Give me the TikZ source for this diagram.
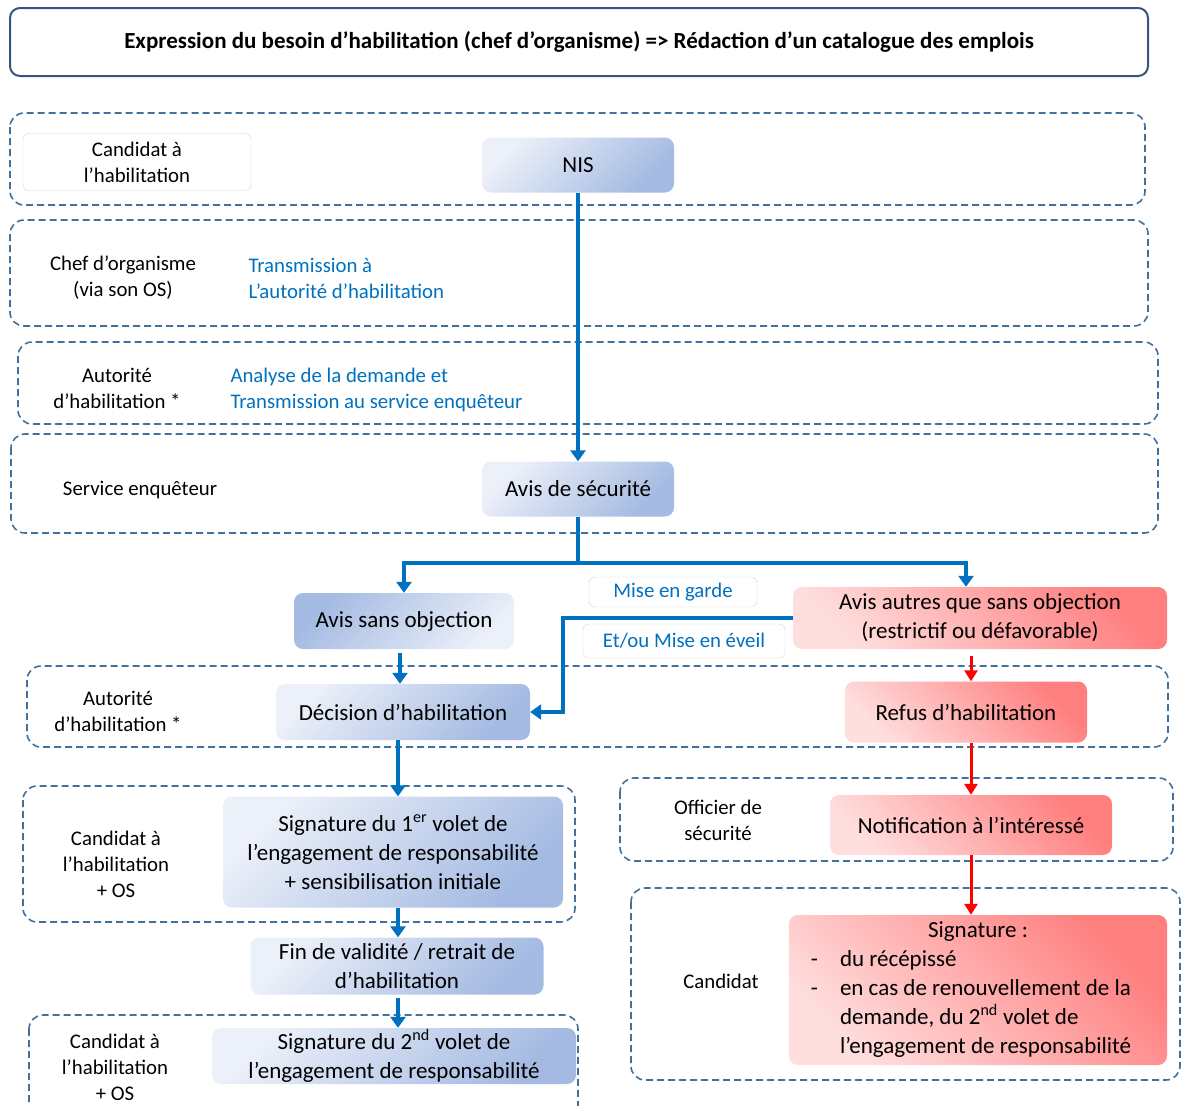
\documentclass[tikz,border=0pt]{standalone}
\usepackage{fontspec}
\setmainfont{Carlito}
\usetikzlibrary{arrows.meta,positioning}

\definecolor{lanecol}{RGB}{65,113,156}
\definecolor{titlecol}{RGB}{52,86,125}
\definecolor{flowblue}{RGB}{0,112,192}
\definecolor{blueL}{RGB}{236,240,249}
\definecolor{blueD}{RGB}{164,186,226}
\definecolor{redL}{RGB}{255,222,222}
\definecolor{redD}{RGB}{255,126,126}
\definecolor{edgegray}{RGB}{212,212,212}

\tikzset{
  lane/.style={draw=lanecol, line width=1.6pt, dash pattern=on 7pt off 4pt, rounded corners=14pt},
  bluebox/.style={rounded corners=9pt, left color=blueL, right color=blueD, shading angle=45, align=center, inner sep=0pt},
  redbox/.style={rounded corners=9pt, left color=redL, right color=redD, shading angle=135, align=center, inner sep=0pt},
  whitebox/.style={draw=edgegray, fill=white, rounded corners=6pt, align=center, inner sep=0pt},
  role/.style={align=center, font=\fontsize{20.8}{26}\selectfont},
  note/.style={align=left, text=flowblue, anchor=west, font=\fontsize{20.8}{26}\selectfont},
  bluearrow/.style={draw=flowblue, line width=4pt, -{Triangle[length=11pt,width=15pt]}},
  redarrow/.style={draw=red, line width=3pt, -{Triangle[length=11pt,width=13pt]}}
}

\begin{document}
\begin{tikzpicture}[x=1pt,y=-1pt,font=\fontsize{23}{29}\selectfont]
\useasboundingbox (0,0) rectangle (1181,1106);

\node[draw=titlecol, line width=2pt, rounded corners=10pt, minimum width=1138, minimum height=68] (titre) at (579,42)
  {\bfseries\fontsize{23}{28}\selectfont Expression du besoin d’habilitation (chef d’organisme) => Rédaction d’un catalogue des emplois};

\draw[lane] (10,113) rectangle (1145,205);
\draw[lane] (10,220) rectangle (1148,326);
\draw[lane] (18,342) rectangle (1158,424);
\draw[lane] (11,434) rectangle (1158,533);
\draw[lane] (27,666) rectangle (1168,747);
\draw[lane] (23,786) rectangle (575,922);
\draw[lane] (620,778) rectangle (1173,861);
\draw[lane] (631,888) rectangle (1180,1080);
\draw[lane] (29,1015) rectangle (578,1130);

\node[whitebox, role, minimum width=228, minimum height=57] (candidat) at (137,162) {Candidat à\\l’habilitation};
\node[role] (chef) at (123,278) {Chef d’organisme\\(via son OS)};
\node[role] (autorite) at (117,388) {Autorité\\d’habilitation *};
\node[role] (service) at (140,490) {Service enquêteur};
\node[role] (autorite2) at (118,711) {Autorité\\d’habilitation *};
\node[role] (candidatos) at (116,864) {Candidat à\\l’habilitation\\+ OS};
\node[role] (officier) at (718,820) {Officier de\\sécurité};
\node[role] (candidat2) at (721,981) {Candidat};
\node[role] (candidatos2) at (115,1067) {Candidat à\\l’habilitation\\+ OS};

\node[note] (transmission) at (245,278) {Transmission à\\L’autorité d’habilitation};
\node[note] (analyse) at (227,390) {Analyse de la demande et\\Transmission au service enquêteur};

\node[bluebox, minimum width=192, minimum height=55] (nis) at (578,165) {NIS};
\node[bluebox, minimum width=192, minimum height=55] (avis) at (578,489) {Avis de sécurité};
\node[bluebox, left color=blueD, right color=blueL, shading angle=45, minimum width=220, minimum height=56] (aso) at (404,621) {Avis sans objection};
\node[whitebox, text=flowblue, minimum width=168, minimum height=30] (garde) at (673,592) {\fontsize{20.8}{26}\selectfont Mise en garde};
\node[whitebox, text=flowblue, minimum width=202, minimum height=34] (eveil) at (684,641) {\fontsize{20.8}{26}\selectfont Et/ou Mise en éveil};
\node[redbox, minimum width=374, minimum height=62] (aao) at (980,618) {Avis autres que sans objection\\(restrictif ou défavorable)};
\node[bluebox, minimum width=254, minimum height=56] (dec) at (403,712) {Décision d’habilitation};
\node[redbox, minimum width=242, minimum height=61] (refus) at (966,712) {Refus d’habilitation};
\node[bluebox, minimum width=340, minimum height=111] (sig1) at (393,852)
  {Signature du 1\textsuperscript{er} volet de\\l’engagement de responsabilité\\+ sensibilisation initiale};
\node[redbox, minimum width=282, minimum height=60] (notif) at (971,825) {Notification à l’intéressé};
\node[bluebox, minimum width=293, minimum height=57] (fin) at (397,966) {Fin de validité / retrait de\\d’habilitation};
\node[redbox, minimum width=378, minimum height=150] (sigr) at (978,990)
  {\begin{tabular}{@{}l@{\hspace{22pt}}l@{}}
   \multicolumn{2}{c}{\hspace*{14pt}Signature :}\\
   - & du récépissé\\
   - & en cas de renouvellement de la\\
     & demande, du 2\textsuperscript{nd} volet de\\
     & l’engagement de responsabilité
   \end{tabular}\kern14pt};
\node[bluebox, minimum width=364, minimum height=56] (sig2) at (394,1056)
  {Signature du 2\textsuperscript{nd} volet de\\l’engagement de responsabilité};

\draw[bluearrow] (nis) -- (avis);
\draw[draw=flowblue, line width=4pt] (avis.south) -- ++(0,46) coordinate (split);
\draw[bluearrow] (split) -| (aso);
\draw[bluearrow] (split) -| ([xshift=-14pt]aao.north);
\draw[bluearrow] (aao.west) -- ++(-230,0) |- (dec.east);
\draw[bluearrow, shorten <=4pt] ([xshift=-4pt]aso.south) -- ([xshift=-4pt]aso.south |- dec.north);
\draw[bluearrow] (dec.south -| 398,0) -- (sig1.north -| 398,0);
\draw[bluearrow] (sig1.south -| 398,0) -- (fin.north -| 398,0);
\draw[bluearrow, shorten <=3pt] (fin.south -| 398,0) -- (sig2.north -| 398,0);
\draw[redarrow, shorten <=7pt] (aao.south -| 971,0) -- (refus.north -| 971,0);
\draw[redarrow] (refus.south -| 971,0) -- (notif.north);
\draw[redarrow] (notif.south) -- (sigr.north -| 971,0);
\end{tikzpicture}
\end{document}
